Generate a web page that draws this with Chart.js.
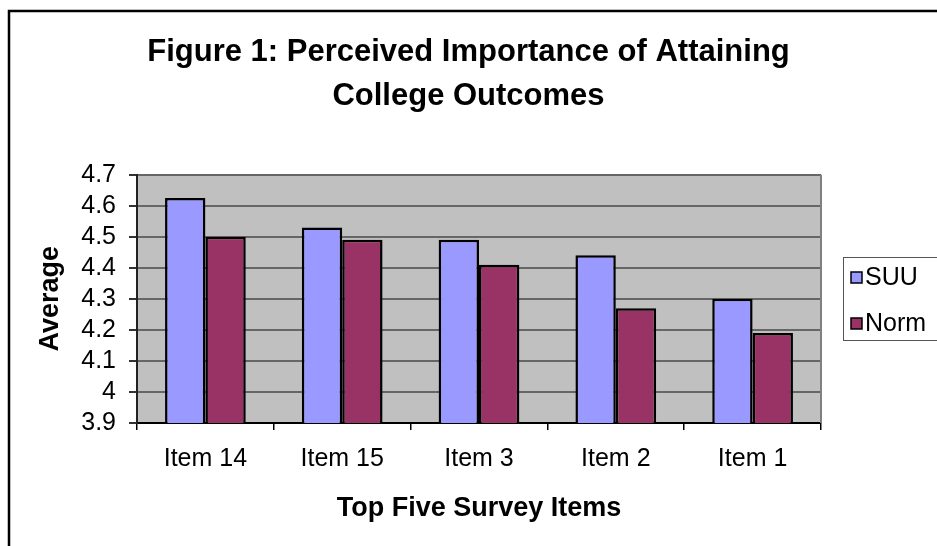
<!DOCTYPE html>
<html><head><meta charset="utf-8">
<script src="https://cdn.jsdelivr.net/npm/chart.js@4"></script>
<style>html,body{margin:0;padding:0;background:#fff;overflow:hidden}#wrap{width:937px;height:546px;position:relative}</style>
</head><body><div id="wrap"><canvas id="c" width="937" height="546"></canvas></div>
<script>
// ---- data ----
const categories = ['Item 14', 'Item 15', 'Item 3', 'Item 2', 'Item 1'];
const suuValues  = [4.625, 4.53, 4.49, 4.44, 4.30];
const normValues = [4.50, 4.49, 4.41, 4.27, 4.19];
const seriesNames = ['SUU', 'Norm'];
const yTickValues = [3.9, 4.0, 4.1, 4.2, 4.3, 4.4, 4.5, 4.6, 4.7];
const yTickLabels = ['3.9', '4', '4.1', '4.2', '4.3', '4.4', '4.5', '4.6', '4.7'];
const chartTitle = ['Figure 1: Perceived Importance of Attaining', 'College Outcomes'];
const xAxisTitle = 'Top Five Survey Items';
const yAxisTitle = 'Average';

const FONT = "'Liberation Sans', Arial, Helvetica, sans-serif";
const PLOT_BG = '#C0C0C0';

const framePlugin = {
  id: 'frame',
  beforeDraw(chart) {
    const {ctx, chartArea: a} = chart;
    ctx.save();
    ctx.fillStyle = PLOT_BG;
    ctx.fillRect(a.left, a.top, a.right - a.left, a.bottom - a.top);
    ctx.restore();
  },
  afterDraw(chart) {
    const {ctx, chartArea: a} = chart;
    ctx.save();
    // outer frame (left + top)
    ctx.strokeStyle = '#000';
    ctx.lineWidth = 2.5;
    ctx.beginPath();
    ctx.moveTo(9, 546); ctx.lineTo(9, 11); ctx.lineTo(940, 11);
    ctx.stroke();
    // plot area right border
    ctx.strokeStyle = '#808080';
    ctx.lineWidth = 2;
    ctx.beginPath();
    ctx.moveTo(a.right, a.top); ctx.lineTo(a.right, a.bottom);
    ctx.stroke();
    // legend
    const lx = 843, ly = 257, lw = 100, lh = 83;
    ctx.fillStyle = '#fff';
    ctx.fillRect(lx, ly, lw, lh);
    ctx.strokeStyle = '#555';
    ctx.lineWidth = 1;
    ctx.strokeRect(lx + 0.5, ly + 0.5, lw, lh);
    ctx.font = '25px ' + FONT;
    ctx.textBaseline = 'middle';
    ctx.textAlign = 'left';
    chart.data.datasets.forEach((ds, i) => {
      const cy = 277 + i * 46;
      ctx.fillStyle = ds.backgroundColor;
      ctx.fillRect(851, cy - 5, 11, 11);
      ctx.strokeStyle = '#000';
      ctx.lineWidth = 1.5;
      ctx.strokeRect(851, cy - 5, 11, 11);
      ctx.fillStyle = '#000';
      ctx.fillText(ds.label, 865, cy + 1);
    });
    ctx.restore();
  }
};

new Chart(document.getElementById('c'), {
  type: 'bar',
  data: {
    labels: categories,
    datasets: [
      { label: seriesNames[0], data: suuValues, backgroundColor: '#9999FF', borderColor: '#000', borderWidth: 2.5, borderSkipped: false },
      { label: seriesNames[1], data: normValues, backgroundColor: '#993366', borderColor: '#000', borderWidth: 2.5, borderSkipped: false }
    ]
  },
  options: {
    responsive: false,
    devicePixelRatio: 1,
    animation: false,
    layout: { padding: { left: 0, top: 0, right: 0, bottom: 0 } },
    datasets: { bar: { categoryPercentage: 0.59, barPercentage: 1.0 } },
    plugins: {
      legend: { display: false },
      tooltip: { enabled: false },
      title: {
        display: true,
        text: chartTitle,
        color: '#000',
        font: { family: FONT, size: 31, weight: 'bold', lineHeight: 1.43 },
        padding: { top: 30, bottom: 56 }
      }
    },
    scales: {
      x: {
        offset: true,
        grid: { display: true, offset: true, drawOnChartArea: false, drawTicks: true, tickLength: 7, color: '#000', lineWidth: 1.5 },
        border: { display: true, color: '#000', width: 2 },
        ticks: { color: '#000', font: { family: FONT, size: 25 }, padding: 14, maxRotation: 0 },
        title: { display: true, text: xAxisTitle, color: '#000', font: { family: FONT, size: 27, weight: 'bold', lineHeight: 1.2 }, padding: { top: 0, bottom: 21 } },
        afterFit(s) { s.height = 123; }
      },
      y: {
        min: 3.9, max: 4.7,
        afterBuildTicks(s) { s.ticks = yTickValues.map(v => ({ value: v })); },
        grid: { color: '#666', lineWidth: 2, drawTicks: true, tickLength: 8, tickColor: '#333' },
        border: { display: true, color: '#222', width: 2 },
        ticks: {
          autoSkip: false, color: '#000', padding: 13, font: { family: FONT, size: 25 },
          callback(v) { const i = yTickValues.findIndex(t => Math.abs(t - v) < 1e-6); return i >= 0 ? yTickLabels[i] : ''; }
        },
        title: { display: true, text: yAxisTitle, color: '#000', font: { family: FONT, size: 27, weight: 'bold', lineHeight: 1.2 }, padding: { top: 34, bottom: 0 } },
        afterFit(s) { s.width = 137; }
      },
      legendSpace: {
        type: 'linear', position: 'right', display: true,
        grid: { display: false, drawTicks: false }, border: { display: false },
        ticks: { display: false },
        afterFit(s) { s.width = 116; }
      }
    }
  },
  plugins: [framePlugin]
});
</script>
</body></html>
